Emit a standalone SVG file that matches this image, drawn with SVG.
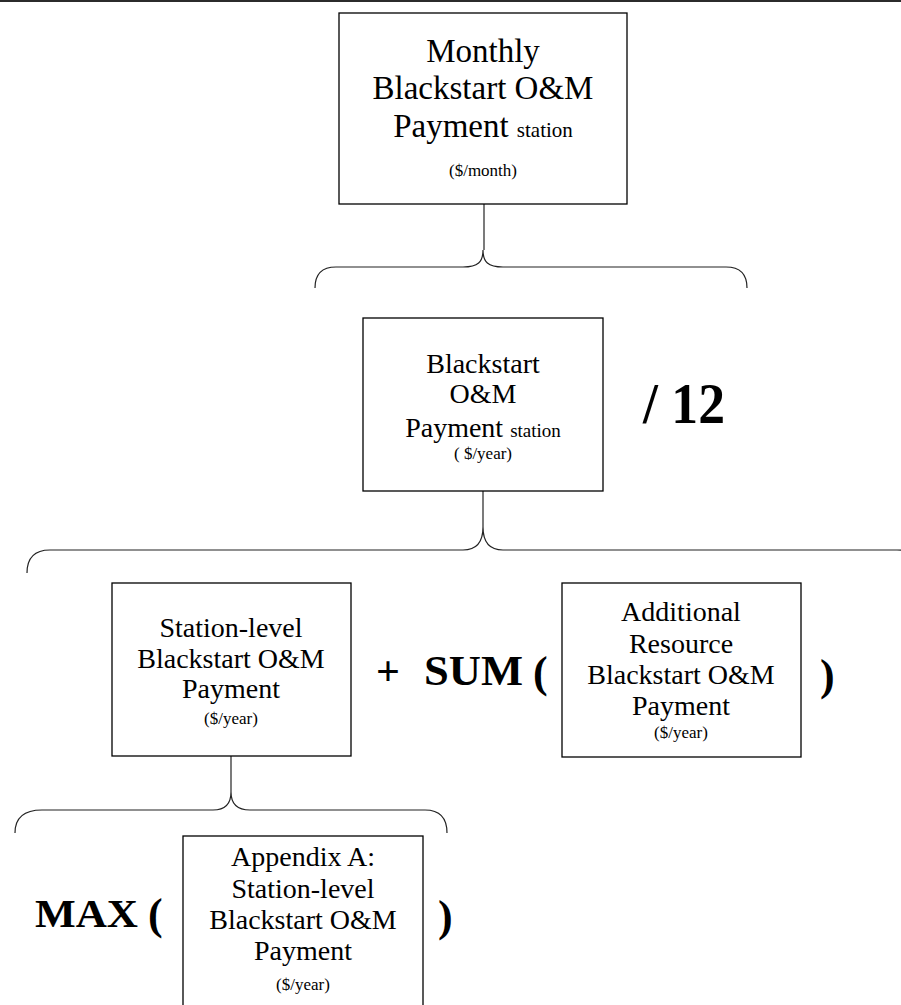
<svg xmlns="http://www.w3.org/2000/svg" width="901" height="1005" viewBox="0 0 901 1005">
<style>
.box{fill:#fff;stroke:#000;stroke-width:1.3}
.brace{fill:none;stroke:#222;stroke-width:1.2}
.t{font-family:"Liberation Serif","Times New Roman",serif;fill:#000;text-anchor:middle}
.op{font-family:"Liberation Serif","Times New Roman",serif;font-weight:bold;fill:#000}
</style>
<rect x="0" y="0" width="901" height="2" fill="#2b2b2b"/>
<g id="connectors">
<path class="brace" d="M484,204 L484,250"/>
<path class="brace" d="M315,288 Q315,267 336,267 L463,267 C478,267 483,262 483,250 C483,262 488,267 503,267 L726,267 Q747,267 747,288"/>
<path class="brace" d="M483,491 L483,527"/>
<path class="brace" d="M27,573 Q27,550 50,550 L463,550 C478,550 483,540 483,527 C483,540 488,550 503,550 L897,550 Q921,550 921,573"/>
<path class="brace" d="M231,756 L231,792"/>
<path class="brace" d="M15,833 Q15,810 42,810 L213,810 C226,810 231,803 231,792 C231,803 236,810 250,810 L425,810 Q447,810 447,833"/>
</g>
<g id="node-monthly">
<rect class="box" x="339" y="13" width="288" height="191"/>
<text class="t" x="483" y="62" font-size="33">Monthly</text>
<text class="t" x="483" y="99" font-size="33">Blackstart O&amp;M</text>
<text class="t" x="483" y="137" font-size="33">Payment <tspan font-size="21">station</tspan></text>
<text class="t" x="483" y="176" font-size="17">($/month)</text>
</g>
<g id="node-annual">
<rect class="box" x="363" y="318" width="240" height="173"/>
<text class="t" x="483" y="373" font-size="28">Blackstart</text>
<text class="t" x="483" y="403" font-size="28">O&amp;M</text>
<text class="t" x="483" y="437" font-size="28">Payment <tspan font-size="19">station</tspan></text>
<text class="t" x="483" y="459" font-size="17">( $/year)</text>
</g>
<g id="op-div">
<text class="op" x="643" y="423" font-size="56" textLength="82" lengthAdjust="spacingAndGlyphs">/ 12</text>
</g>
<g id="node-station">
<rect class="box" x="112" y="583" width="239" height="173"/>
<text class="t" x="231" y="637" font-size="28">Station-level</text>
<text class="t" x="231" y="668" font-size="28">Blackstart O&amp;M</text>
<text class="t" x="231" y="698" font-size="28">Payment</text>
<text class="t" x="231" y="724" font-size="17">($/year)</text>
</g>
<g id="op-sum">
<text class="op" x="376" y="685" font-size="42">+</text>
<text class="op" x="424" y="685" font-size="42" textLength="99" lengthAdjust="spacingAndGlyphs">SUM</text>
<text class="op" x="533" y="687" font-size="44">(</text>
<text class="op" x="820" y="690" font-size="44">)</text>
</g>
<g id="node-additional">
<rect class="box" x="562" y="583" width="239" height="174"/>
<text class="t" x="681" y="621" font-size="28">Additional</text>
<text class="t" x="681" y="653" font-size="28">Resource</text>
<text class="t" x="681" y="684" font-size="28">Blackstart O&amp;M</text>
<text class="t" x="681" y="715" font-size="28">Payment</text>
<text class="t" x="681" y="738" font-size="17">($/year)</text>
</g>
<g id="op-max">
<text class="op" x="35" y="927" font-size="40" textLength="103" lengthAdjust="spacingAndGlyphs">MAX</text>
<text class="op" x="148" y="929" font-size="44">(</text>
<text class="op" x="438" y="931" font-size="44">)</text>
</g>
<g id="node-appendix">
<rect class="box" x="183" y="836" width="240" height="200"/>
<text class="t" x="303" y="866" font-size="28">Appendix A:</text>
<text class="t" x="303" y="898" font-size="28">Station-level</text>
<text class="t" x="303" y="929" font-size="28">Blackstart O&amp;M</text>
<text class="t" x="303" y="960" font-size="28">Payment</text>
<text class="t" x="303" y="990" font-size="17">($/year)</text>
</g>
</svg>
